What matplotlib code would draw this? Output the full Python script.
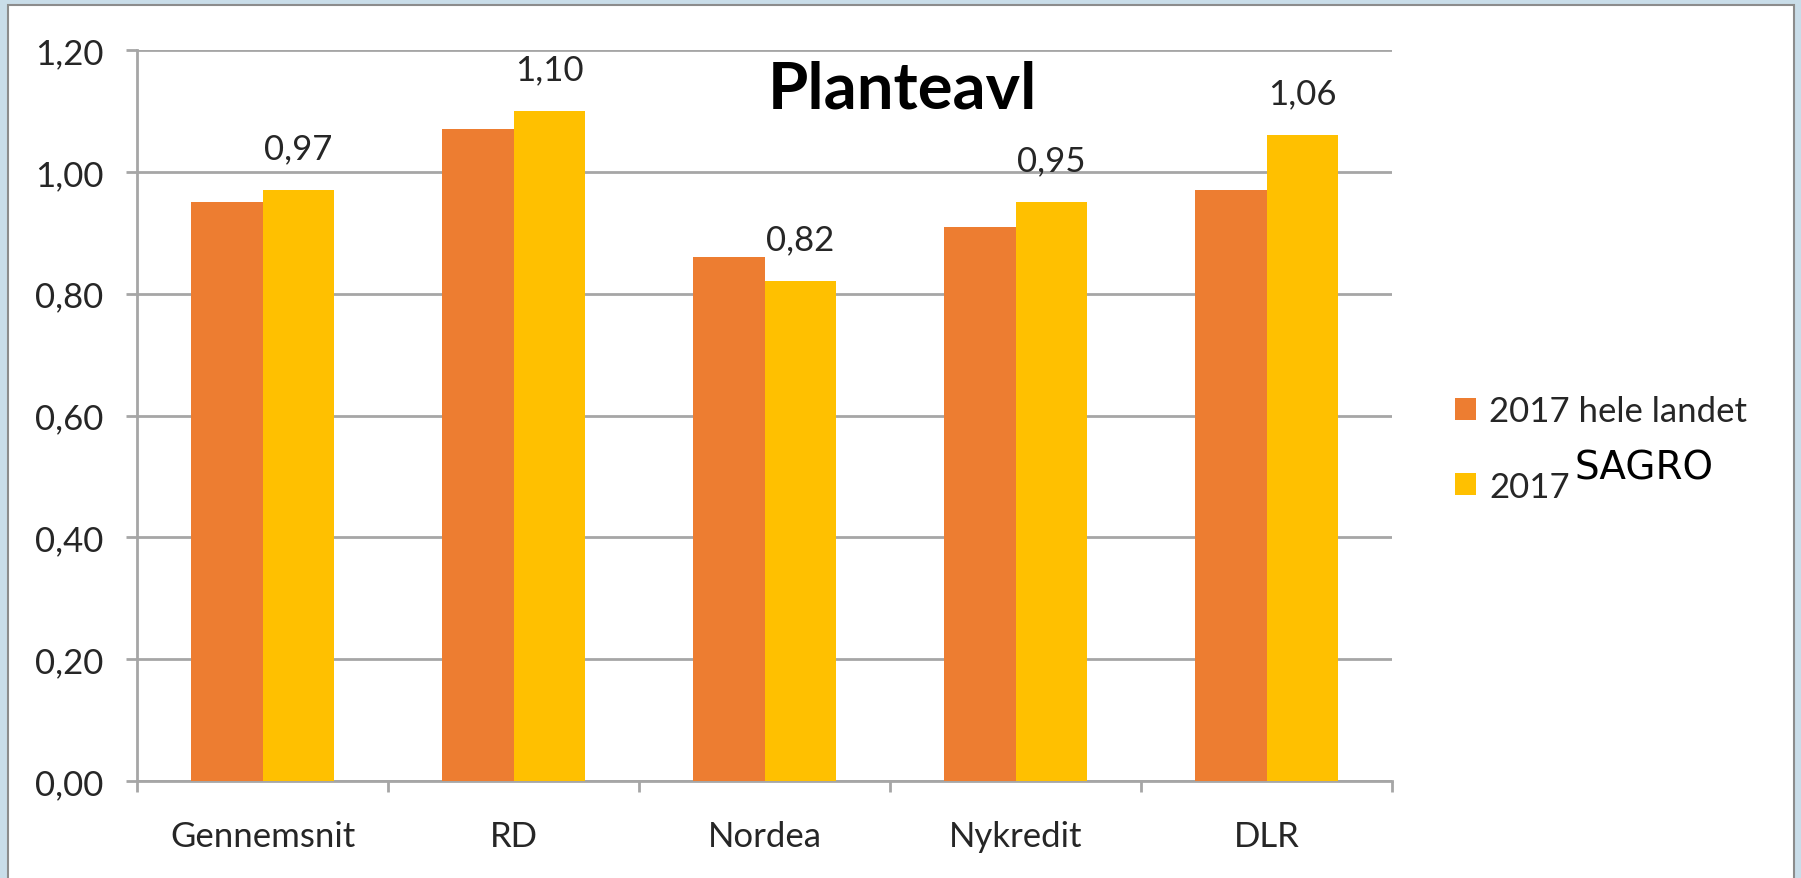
import matplotlib.pyplot as plt
import matplotlib.patches as mpatches
import numpy as np

categories = ["Gennemsnit", "RD", "Nordea", "Nykredit", "DLR"]
hele_landet = [0.95, 1.07, 0.86, 0.91, 0.97]
sagro = [0.97, 1.10, 0.82, 0.95, 1.06]
sagro_labels = ["0,97", "1,10", "0,82", "0,95", "1,06"]
yticks = [0.0, 0.2, 0.4, 0.6, 0.8, 1.0, 1.2]
ytick_labels = ["0,00", "0,20", "0,40", "0,60", "0,80", "1,00", "1,20"]

ORANGE = "#ED7D31"
YELLOW = "#FFC000"
GRID = "#A6A6A6"
W, H = 1801, 879
FS = 25

plt.rcParams['font.family'] = ['Lato', 'DejaVu Sans']

fig = plt.figure(figsize=(W / 100, H / 100), dpi=100)
fig.patch.set_facecolor("#C9DDE9")

# white panel with grey frame
panel = mpatches.Rectangle((8 / W, -0.02), (1794 - 8) / W, 1 - 6 / H + 0.02,
                           transform=fig.transFigure, facecolor="white",
                           edgecolor="#8C8C8C", linewidth=1.5, zorder=0)
fig.add_artist(panel)

ax = fig.add_axes([137 / W, 1 - 782 / H, (1392 - 137) / W, (782 - 51) / H])
ax.set_facecolor("none")

x = np.arange(len(categories))
bw = 1 / 3.5
ax.bar(x - bw / 2, hele_landet, bw, color=ORANGE, label="2017 hele landet", zorder=3)
bars = ax.bar(x + bw / 2, sagro, bw, color=YELLOW, label="2017", zorder=3)

for rect, lab in zip(bars, sagro_labels):
    ax.annotate(lab, (rect.get_x() + rect.get_width() / 2, rect.get_height()),
                xytext=(0, 23), textcoords="offset points", ha="center",
                va="baseline", fontsize=FS, color="#262626")

ax.set_xlim(-0.5, len(categories) - 0.5)
ax.set_ylim(0, 1.2)
ax.set_yticks(yticks)
ax.set_yticklabels(ytick_labels)
ax.set_xticks(x)
ax.set_xticklabels(categories)
ax.set_xticks(np.arange(-0.5, len(categories), 1.0), minor=True)

ax.grid(axis="y", color=GRID, linewidth=2, zorder=0)
for s in ["top", "right"]:
    ax.spines[s].set_visible(False)
for s in ["left", "bottom"]:
    ax.spines[s].set_color(GRID)
    ax.spines[s].set_linewidth(2)

ax.tick_params(axis="y", length=8, width=2, color=GRID, labelsize=FS,
               labelcolor="#262626", pad=16)
ax.tick_params(axis="x", which="major", length=0, labelsize=FS,
               labelcolor="#262626", pad=28)
ax.tick_params(axis="x", which="minor", length=8, width=2, color=GRID)

fig.text(902 / W, 1 - 90 / H, "Planteavl", fontsize=47, fontweight="bold",
         ha="center", va="center", color="black")

leg = fig.legend(loc="upper left", bbox_to_anchor=(1424 / W, 1 - 365 / H),
                 frameon=False, fontsize=FS, handlelength=0.6, handleheight=0.6,
                 handletextpad=0.38, labelspacing=1.25, labelcolor="#262626")

fig.text(1574 / W, 1 - 480 / H, "SAGRO", fontsize=28, family="DejaVu Sans",
         va="baseline", ha="left", color="black")

fig.savefig("out.png", dpi=100, facecolor=fig.get_facecolor())
